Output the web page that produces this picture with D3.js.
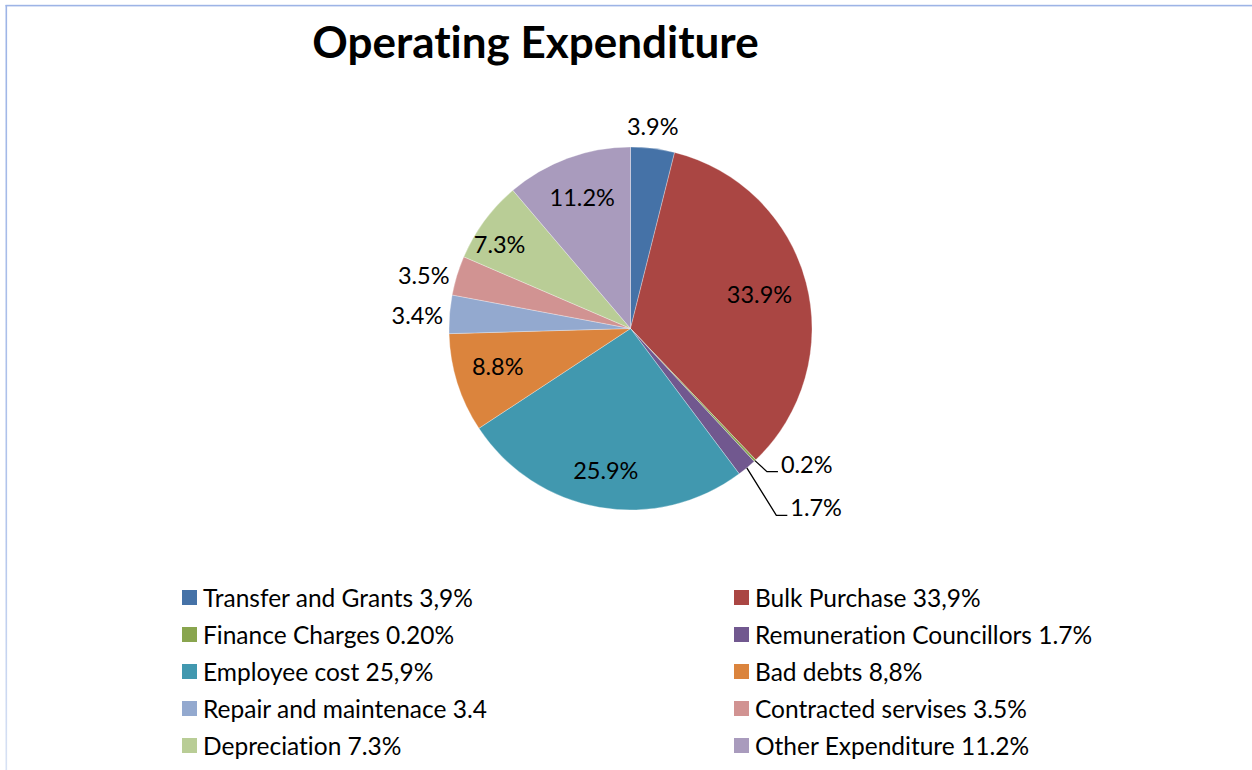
<!DOCTYPE html>
<html>
<head>
<meta charset="utf-8">
<script src="https://cdn.jsdelivr.net/npm/d3@7"></script>
<style>
  html, body { margin: 0; padding: 0; background: #fff; }
  svg { display: block; }
  text { font-family: Lato, "Open Sans", sans-serif; fill: #000; font-variant-ligatures: none; }
</style>
</head>
<body>
<svg id="chart" width="1252" height="770"></svg>
<script>
// Operating expenditure shares (percent), in drawing order clockwise from 12 o'clock
const categories = [
  "Transfer and Grants", "Bulk Purchase", "Finance Charges", "Remuneration Councillors",
  "Employee cost", "Bad debts", "Repair and maintenace", "Contracted servises",
  "Depreciation", "Other Expenditure"
];
const values = [3.9, 33.9, 0.2, 1.7, 25.9, 8.8, 3.4, 3.5, 7.3, 11.2];
const dataLabels = ["3.9%", "33.9%", "0.2%", "1.7%", "25.9%", "8.8%", "3.4%", "3.5%", "7.3%", "11.2%"];
const legendLabels = [
  "Transfer and Grants 3,9%", "Bulk Purchase 33,9%", "Finance Charges 0.20%",
  "Remuneration Councillors 1.7%", "Employee cost 25,9%", "Bad debts 8,8%",
  "Repair and maintenace 3.4", "Contracted servises 3.5%", "Depreciation 7.3%",
  "Other Expenditure 11.2%"
];
const colors = ["#4572A7", "#AA4643", "#89A54E", "#71588F", "#4198AF",
                "#DB843D", "#93A9CF", "#D19392", "#B9CD96", "#A99BBD"];

// Label placement per slice: "in" = inside at a radius fraction,
// "out" = just outside the rim, "leader" = offset label joined by a leader line
const labelMode = ["out", "in", "leader", "leader", "in", "in", "out", "out", "in", "in"];
const labelRadius = [1.05, 0.735, 1, 1, 0.79, 0.76, 1.035, 1.04, 0.86, 0.77];
const labelTurn = [-0.02, 0, 0, 0, 0, 0.03, -0.01, -0.025, -0.06, 0];
const leaderOffset = { 2: [23, 11], 3: [40.5, 47.5] };

const svg = d3.select("#chart");
const W = 1252, H = 770;

// frame lines
const defs = svg.append("defs");
const grad = defs.append("linearGradient").attr("id", "edgeFade")
  .attr("x1", 0).attr("y1", 0).attr("x2", 0).attr("y2", 1);
grad.append("stop").attr("offset", "0%").attr("stop-color", "#9db4e6");
grad.append("stop").attr("offset", "70%").attr("stop-color", "#b4c6ec");
grad.append("stop").attr("offset", "100%").attr("stop-color", "#d8e2f4");
svg.append("rect").attr("x", 5.5).attr("y", 5).attr("width", 1.6).attr("height", H - 5)
  .attr("fill", "url(#edgeFade)");
svg.append("rect").attr("x", 5.5).attr("y", 4.8).attr("width", W - 5.5).attr("height", 1.6)
  .attr("fill", "#9db4e6");

// title
svg.append("text")
  .attr("x", 535.5).attr("y", 58)
  .attr("text-anchor", "middle")
  .style("font-size", "44px").style("font-weight", "700")
  .text("Operating Expenditure");

// pie
const cx = 630.5, cy = 328.5, R = 181.5;
const pie = d3.pie().sort(null).value(d => d)(values);
const arc = d3.arc().innerRadius(0).outerRadius(R);
const g = svg.append("g").attr("transform", `translate(${cx},${cy})`);

g.selectAll("path.slice").data(pie).join("path")
  .attr("class", "slice")
  .attr("d", arc)
  .attr("fill", (d, i) => colors[i])
  .attr("stroke", "#ffffff")
  .attr("stroke-opacity", 0.5)
  .attr("stroke-width", 0.6);

const fontPx = 23.5;
const labelH = 26;
pie.forEach((d, i) => {
  const mid = (d.startAngle + d.endAngle) / 2;
  const mode = labelMode[i];
  if (mode === "in") {
    const a = mid + labelTurn[i];
    const s = Math.sin(a), c = -Math.cos(a);
    const r = R * labelRadius[i];
    g.append("text").attr("x", s * r).attr("y", c * r)
      .attr("text-anchor", "middle").attr("dominant-baseline", "central")
      .style("font-size", fontPx + "px").text(dataLabels[i]);
  } else if (mode === "out") {
    const a = mid + labelTurn[i];
    const s = Math.sin(a), c = -Math.cos(a);
    const r = R * labelRadius[i];
    const t = g.append("text").style("font-size", fontPx + "px")
      .attr("text-anchor", "middle").attr("dominant-baseline", "central")
      .text(dataLabels[i]);
    const w = t.node().getComputedTextLength();
    t.attr("x", s * r + s * w / 2).attr("y", c * r + c * labelH / 2);
  } else {
    const s = Math.sin(mid), c = -Math.cos(mid);
    const ex = s * R, ey = c * R;
    const [dx, dy] = leaderOffset[i];
    const endX = ex + dx, endY = ey + dy;
    const elbowX = endX - 11;
    g.append("path")
      .attr("d", `M${ex},${ey}L${elbowX},${endY}L${endX},${endY}`)
      .attr("fill", "none").attr("stroke", "#000").attr("stroke-width", 1.3);
    g.append("text").attr("x", endX + 3).attr("y", endY - 8)
      .attr("dominant-baseline", "central")
      .style("font-size", fontPx + "px").text(dataLabels[i]);
  }
});

// legend: two columns, row-major
const legendX = [182, 734], legendY0 = 597.5, legendStep = 37, sw = 15;
const lg = svg.append("g");
legendLabels.forEach((lbl, i) => {
  const col = i % 2, row = Math.floor(i / 2);
  const x = legendX[col], y = legendY0 + row * legendStep;
  lg.append("rect").attr("x", x).attr("y", y - sw / 2).attr("width", sw).attr("height", sw)
    .attr("fill", colors[i]);
  lg.append("text").attr("x", x + 21).attr("y", y)
    .attr("dominant-baseline", "central")
    .style("font-size", "24.5px").text(lbl);
});
</script>
</body>
</html>
